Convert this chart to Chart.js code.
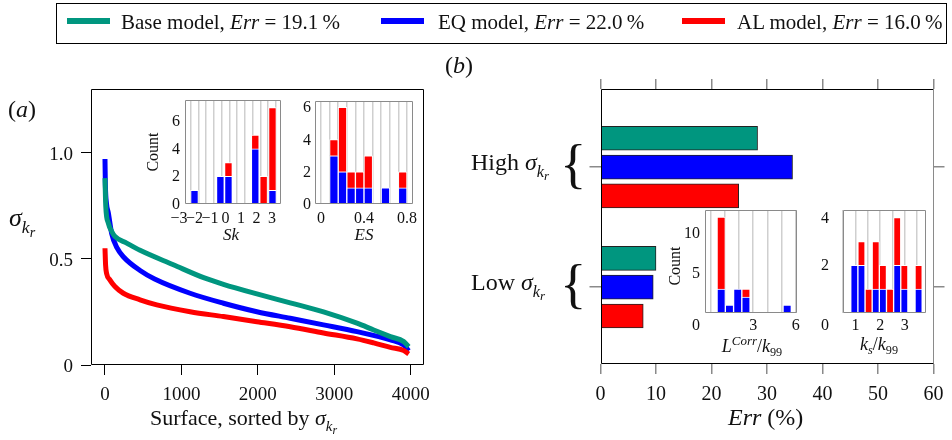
<!DOCTYPE html>
<html>
<head>
<meta charset="utf-8">
<script src="https://cdn.jsdelivr.net/npm/chart.js@4.4.1/dist/chart.umd.min.js"></script>
<style>
html, body { margin: 0; padding: 0; background: #fff; }
#fig { position: relative; width: 952px; height: 440px; overflow: hidden; background: #fff; }
#fig canvas { position: absolute; }
.t { position: absolute; font-family: 'Liberation Serif', 'Times New Roman', serif; line-height: 1; white-space: nowrap; color: #111; }
.sb { font-size: .68em; position: relative; top: .42em; }
.sb2 { font-size: .8em; position: relative; top: .28em; }
.sp { font-size: .72em; position: relative; top: -.55em; }
</style>
</head>
<body>
<div id="fig"></div>
<script>
// ---- legend / models ----
const modelNames = ['Base model', 'EQ model', 'AL model'];
const modelErr = ['19.1', '22.0', '16.0'];
const modelColors = ['#00967f', '#0000ff', '#ff0000'];

// ---- panel (a): sigma_kr sorted per surface ----
const baseSurf  = [0, 10, 44, 87, 131, 284, 459, 895, 1300, 1550, 1988, 2424, 2860, 3298, 3517, 3735, 3910, 3975];
const baseSigma = [0.88, 0.75, 0.668, 0.63, 0.605, 0.574, 0.54, 0.472, 0.41, 0.38, 0.335, 0.293, 0.25, 0.197, 0.165, 0.134, 0.11, 0.086];
const eqSurf    = [0, 5, 20, 44, 87, 160, 240, 459, 650, 1114, 1550, 1988, 2424, 2860, 3298, 3735, 3910, 3975];
const eqSigma   = [0.97, 0.85, 0.76, 0.716, 0.62, 0.55, 0.51, 0.445, 0.405, 0.338, 0.291, 0.251, 0.22, 0.189, 0.157, 0.118, 0.094, 0.067];
const alSurf    = [0, 8, 22, 66, 130, 240, 459, 678, 1114, 1550, 1988, 2424, 2860, 3298, 3517, 3735, 3910, 3975];
const alSigma   = [0.55, 0.47, 0.43, 0.40, 0.37, 0.338, 0.307, 0.283, 0.251, 0.228, 0.204, 0.18, 0.151, 0.123, 0.104, 0.083, 0.068, 0.052];
const aXTicks = [0, 1000, 2000, 3000, 4000];
const aYTicks = [0, 0.5, 1.0];
const aYTickLabels = ['0', '0.5', '1.0'];

// ---- panel (b): Err per group ----
const groupNames = ['High', 'Low'];
const errBase = [28.3, 10.0];
const errEQ   = [34.6, 9.5];
const errAL   = [24.9, 7.7];
const bXTicks = [0, 10, 20, 30, 40, 50, 60];

// ---- inset histograms (blue = EQ count, red = extra count on top) ----
const skBins = [-2.0, -0.33, 0.19, 1.92, 2.46, 3.03];
const skBlue = [1, 2, 2, 4, 0, 1];
const skRed  = [0, 0, 1, 1, 2, 6];
const skXTicks = [-3, -2, -1, 0, 1, 2, 3];
const skXLabels = ['\u22123', '\u22122', '\u22121', '0', '1', '2', '3'];
const skYTicks = [0, 2, 4, 6];

const esBins = [0.12, 0.2, 0.28, 0.36, 0.44, 0.6, 0.76];
const esBlue = [3, 2, 1, 1, 1, 1, 1];
const esRed  = [1, 4, 1, 1, 2, 0, 1];
const esXTicks = [0, 0.4, 0.8];
const esXLabels = ['0', '0.4', '0.8'];
const esYTicks = [0, 2, 4, 6];

const lcBins = [0.75, 1.33, 1.91, 2.49, 5.39];
const lcBlue = [3, 1, 3, 2, 1];
const lcRed  = [9, 0, 0, 1, 0];
const lcXTicks = [3, 6];
const lcXLabels = ['3', '6'];
const lcYTicks = [5, 10];

const ksBins = [0.95, 1.24, 1.53, 1.82, 2.11, 2.40, 2.69, 2.98, 3.56];
const ksBlue = [2, 2, 0, 1, 1, 0, 2, 1, 1];
const ksRed  = [0, 1, 1, 2, 1, 1, 2, 1, 1];
const ksXTicks = [1, 2, 3];
const ksXLabels = ['1', '2', '3'];
const ksYTicks = [2, 4];

const fig = document.getElementById('fig');

function addCanvas(left, top, w, h) {
    const c = document.createElement('canvas');
    c.width = w; c.height = h;
    c.style.left = left + 'px'; c.style.top = top + 'px';
    c.style.width = w + 'px'; c.style.height = h + 'px';
    fig.appendChild(c);
    return c;
}

function addText(html, left, top, size, extra) {
    const d = document.createElement('div');
    d.className = 't';
    d.style.left = left + 'px';
    d.style.top = top + 'px';
    d.style.fontSize = size + 'px';
    if (extra) Object.assign(d.style, extra);
    d.innerHTML = html;
    fig.appendChild(d);
    return d;
}

// tick label as page text, centred (or right-aligned) on a point taken from a chart scale
function tickLabel(text, x, y, size, align) {
    addText(text, x, y, size, {
        transform: align === 'right' ? 'translate(-100%, -50%)' : 'translate(-50%, -50%)'
    });
}

const fixW = w => s => { s.width = w; };
const fixH = h => s => { s.height = h; };
const setTicks = vals => s => { s.ticks = vals.map(v => ({ value: v })); };

// box around the plot area, one colour per side
const framePlugin = {
    id: 'frame',
    afterDraw(chart, args, o) {
        const { ctx, chartArea: a } = chart;
        const L = Math.round(a.left) + 0.5, R = Math.round(a.right) - 0.5;
        const T = Math.round(a.top) + 0.5, B = Math.round(a.bottom) - 0.5;
        const seg = (x1, y1, x2, y2, c) => {
            ctx.strokeStyle = c; ctx.beginPath(); ctx.moveTo(x1, y1); ctx.lineTo(x2, y2); ctx.stroke();
        };
        ctx.save();
        ctx.lineWidth = o.width || 1;
        seg(L, T, R, T, o.top);
        seg(R, T, R, B, o.right);
        seg(L, B, R, B, o.bottom);
        seg(L, T, L, B, o.left);
        ctx.restore();
    }
};

const sigma = '<i>\u03c3</i><span class="sb"><i>k</i><span class="sb2"><i>r</i></span></span>';

/* ---------------- legend and titles ---------------- */
function drawTexts() {
    const legendBox = document.createElement('div');
    Object.assign(legendBox.style, {
        position: 'absolute', left: '56px', top: '3px', width: '889px', height: '39px',
        border: '1.5px solid #000'
    });
    fig.appendChild(legendBox);
    const legLine = [67, 381, 682];
    const legText = [121, 438, 737];
    modelNames.forEach((n, i) => {
        const ln = document.createElement('div');
        Object.assign(ln.style, {
            position: 'absolute', left: legLine[i] + 'px', top: '18px', width: '43px', height: '6px',
            background: modelColors[i]
        });
        fig.appendChild(ln);
        addText(n + ', <i>Err</i> = ' + modelErr[i] + '\u2009%', legText[i], 11.5, 21);
    });

    addText('(<i>a</i>)', 8, 97, 24);
    addText(sigma, 9, 205, 26);
    addText('Surface, sorted by ' + sigma, 150, 406.5, 22);

    addText('(<i>b</i>)', 445, 53, 24);
    addText('<i>Err</i> (%)', 728, 405, 24);
    const groupTop = [150, 270];
    const braceTop = [135.5, 256];
    groupNames.forEach((g, i) => {
        addText(g + ' ' + sigma, 471, groupTop[i], 24);
        addText('{', 560, braceTop[i], 55);
    });

    const rot = { transform: 'translate(-50%, -50%) rotate(-90deg)' };
    addText('Count', 153, 152, 16, rot);
    addText('Count', 675, 266, 16, rot);
    const ctr = { transform: 'translateX(-50%)' };
    addText('<i>Sk</i>', 231, 226, 17, ctr);
    addText('<i>ES</i>', 364, 226, 17, ctr);
    addText('<i>L</i><span class="sp"><i>Corr</i></span>/<i>k</i><span class="sb" style="top:.3em">99</span>', 752, 337, 18, ctr);
    addText('<i>k</i><span class="sb" style="top:.3em"><i>s</i></span>/<i>k</i><span class="sb" style="top:.3em">99</span>', 879, 335, 18, ctr);
}

/* ---------------- panel (a) ---------------- */
const curve = (xs, ys, color) => ({
    data: xs.map((x, i) => ({ x: x, y: ys[i] })),
    borderColor: color,
    borderWidth: 5,
    pointRadius: 0,
    fill: false,
    cubicInterpolationMode: 'monotone'
});

function drawPanelA() {
    const chart = new Chart(addCanvas(0, 0, 440, 440), {
        type: 'line',
        data: {
            datasets: [
                curve(baseSurf, baseSigma, modelColors[0]),
                curve(alSurf, alSigma, modelColors[2]),
                curve(eqSurf, eqSigma, modelColors[1])
            ]
        },
        options: {
            responsive: false,
            animation: false,
            events: [],
            layout: { padding: { top: 89, right: 16, left: 0, bottom: 0 } },
            plugins: {
                legend: { display: false },
                tooltip: { enabled: false },
                frame: { top: '#000', right: '#000', bottom: '#000', left: '#000' }
            },
            scales: {
                x: {
                    type: 'linear', min: -183, max: 4175,
                    afterBuildTicks: setTicks(aXTicks),
                    afterFit: fixH(75),
                    grid: { drawOnChartArea: false, tickLength: 10, color: '#000' },
                    border: { display: false },
                    ticks: { display: false }
                },
                y: {
                    type: 'linear', min: 0, max: 1.30,
                    afterBuildTicks: setTicks(aYTicks),
                    afterFit: fixW(91),
                    grid: { drawOnChartArea: false, tickLength: 10, color: '#000' },
                    border: { display: false },
                    ticks: { display: false }
                }
            }
        },
        plugins: [framePlugin]
    });
    aXTicks.forEach(v => tickLabel(String(v), chart.scales.x.getPixelForValue(v), 393, 19));
    aYTicks.forEach((v, i) => tickLabel(aYTickLabels[i], 73, chart.scales.y.getPixelForValue(v), 19, 'right'));
}

/* ---------------- panel (b) ---------------- */
const barStep = 0.24;
const errSets = [errBase, errEQ, errAL];
const tickGrid = { drawOnChartArea: false, tickLength: 10, color: '#8a8a8a', lineWidth: 1.5, offset: false };

function drawPanelB() {
    const left = 440;
    const yGroup = (pos, w) => ({
        type: 'linear', position: pos, reverse: true, min: 0.35, max: 2.64, offset: false,
        afterBuildTicks: setTicks(groupNames.map((_, g) => g + 1)),
        afterFit: fixW(w),
        grid: { drawOnChartArea: false, tickLength: 11, color: '#8a8a8a', lineWidth: 1.5, offset: false },
        border: { display: false },
        ticks: { display: false }
    });
    const chart = new Chart(addCanvas(left, 0, 512, 440), {
        type: 'bar',
        data: {
            datasets: modelNames.map((n, i) => ({
                label: n,
                data: errSets[i].map((v, g) => ({ x: v, y: (g + 1) + (i - 1) * barStep })),
                backgroundColor: modelColors[i],
                borderColor: '#222',
                borderWidth: 1,
                borderSkipped: false,
                grouped: false,
                barPercentage: 1,
                categoryPercentage: 1,
                maxBarThickness: 24
            }))
        },
        options: {
            indexAxis: 'y',
            responsive: false,
            animation: false,
            events: [],
            layout: { padding: 0 },
            plugins: {
                legend: { display: false },
                tooltip: { enabled: false },
                frame: { top: '#000', right: '#8a8a8a', bottom: '#000', left: '#000' }
            },
            scales: {
                x: {
                    type: 'linear', position: 'bottom', min: 0, max: 60,
                    afterBuildTicks: setTicks(bXTicks),
                    afterFit: fixH(76),
                    grid: tickGrid,
                    border: { display: false },
                    ticks: { display: false }
                },
                x2: {
                    type: 'linear', position: 'top', min: 0, max: 60,
                    afterBuildTicks: setTicks(bXTicks),
                    afterFit: fixH(89),
                    grid: tickGrid,
                    border: { display: false },
                    ticks: { display: false }
                },
                y: yGroup('left', 160.5),
                y2: yGroup('right', 18.5)
            }
        },
        plugins: [framePlugin]
    });
    bXTicks.forEach(v => tickLabel(String(v), left + chart.scales.x.getPixelForValue(v), 392.5, 20));
}

/* ---------------- inset histograms ---------------- */
function makeInset(c) {
    const [l, t, r, b] = c.box;
    const padL = 45, padT = 6, padR = 5, padB = 32;
    const cx = l - padL, cy = t - padT;
    const canvas = addCanvas(cx, cy, (r - l) + padL + padR, (b - t) + padT + padB);
    const grid = [];
    for (let v = c.gridStart; v <= c.xMax + 1e-9; v += c.gridStep) {
        if (v >= c.xMin - 1e-9) grid.push(+v.toFixed(4));
    }
    const chart = new Chart(canvas, {
        type: 'bar',
        data: {
            datasets: [
                { data: c.bins.map((x, i) => ({ x: x, y: c.blue[i] })), backgroundColor: modelColors[1] },
                { data: c.bins.map((x, i) => ({ x: x, y: c.red[i] })), backgroundColor: modelColors[2] }
            ].map(d => Object.assign(d, {
                borderColor: '#fff', borderWidth: 1, barPercentage: 1, categoryPercentage: 1
            }))
        },
        options: {
            responsive: false,
            animation: false,
            events: [],
            layout: { padding: { left: 0, top: padT, right: padR, bottom: 0 } },
            plugins: {
                legend: { display: false },
                tooltip: { enabled: false },
                frame: { top: '#8a8a8a', right: '#8a8a8a', bottom: '#8a8a8a', left: '#8a8a8a' }
            },
            scales: {
                x: {
                    type: 'linear', min: c.xMin, max: c.xMax, stacked: true, offset: false,
                    afterBuildTicks: setTicks(grid),
                    afterFit: fixH(padB),
                    grid: { color: '#cfcfcf', lineWidth: 1.5, drawTicks: false, offset: false },
                    border: { display: false },
                    ticks: { display: false }
                },
                y: {
                    type: 'linear', min: 0, max: c.yMax, stacked: true,
                    afterBuildTicks: setTicks(c.yTicks),
                    afterFit: fixW(padL),
                    grid: { display: false, drawTicks: false },
                    border: { display: false },
                    ticks: { display: false }
                }
            }
        },
        plugins: [framePlugin]
    });
    const yLabX = l - c.yPad;
    c.yTicks.forEach(v => tickLabel(String(v), yLabX, cy + chart.scales.y.getPixelForValue(v), 16, 'right'));
    c.xTicks.forEach((v, i) => tickLabel(c.xLabels[i], cx + chart.scales.x.getPixelForValue(v), b + c.xOff, 16));
    if (c.cornerZero) tickLabel('0', yLabX, b + c.xOff, 16, 'right');
    return chart;
}

function drawInsets() {
    makeInset({ box: [185, 100, 281, 204], xMin: -2.613, xMax: 3.58, yMax: 7.55,
                bins: skBins, blue: skBlue, red: skRed, gridStart: -2.25, gridStep: 0.5,
                xTicks: skXTicks, xLabels: skXLabels, yTicks: skYTicks, yPad: 5, xOff: 13.5 });
    makeInset({ box: [315, 101, 413, 204], xMin: -0.056, xMax: 0.856, yMax: 6.4,
                bins: esBins, blue: esBlue, red: esRed, gridStart: 0, gridStep: 0.08,
                xTicks: esXTicks, xLabels: esXLabels, yTicks: esYTicks, yPad: 4, xOff: 13.5 });
    makeInset({ box: [705, 210, 797, 313], xMin: -0.39, xMax: 6.08, yMax: 12.9,
                bins: lcBins, blue: lcBlue, red: lcRed, gridStart: 0, gridStep: 1,
                xTicks: lcXTicks, xLabels: lcXLabels, yTicks: lcYTicks, yPad: 5, xOff: 12, cornerZero: true });
    makeInset({ box: [843, 210, 926, 313], xMin: 0.49, xMax: 3.86, yMax: 4.32,
                bins: ksBins, blue: ksBlue, red: ksRed, gridStart: 0.5, gridStep: 0.5,
                xTicks: ksXTicks, xLabels: ksXLabels, yTicks: ksYTicks, yPad: 14, xOff: 12, cornerZero: true });
}

drawPanelA();
drawPanelB();
drawInsets();
drawTexts();
</script>
</body>
</html>
